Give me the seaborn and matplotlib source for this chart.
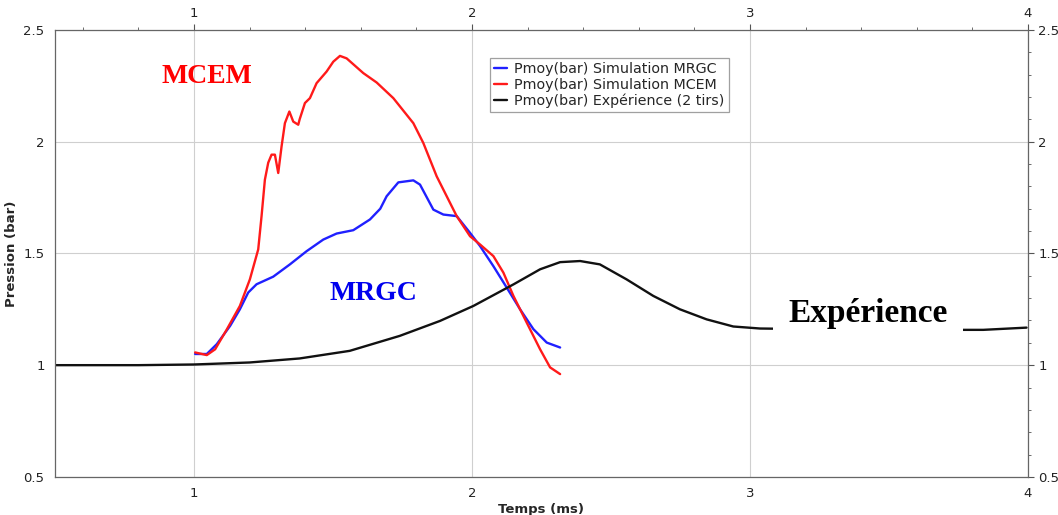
import numpy as np
import seaborn as sns
import matplotlib.pyplot as plt
from matplotlib.ticker import MultipleLocator, FuncFormatter

# Pmoy(bar) Simulation MRGC
t_mrgc = [1.004, 1.046, 1.082, 1.13, 1.165, 1.195, 1.225, 1.285, 1.345, 1.405, 1.465, 1.513,
          1.573, 1.633, 1.67, 1.693, 1.735, 1.789, 1.813, 1.861, 1.897, 1.945, 1.993, 2.029,
          2.077, 2.125, 2.173, 2.221, 2.269, 2.317]
p_mrgc = [1.05, 1.05, 1.094, 1.176, 1.25, 1.325, 1.362, 1.396, 1.451, 1.51, 1.562, 1.589,
          1.604, 1.652, 1.70, 1.756, 1.818, 1.827, 1.808, 1.696, 1.674, 1.667, 1.592, 1.533,
          1.443, 1.347, 1.25, 1.161, 1.101, 1.079]

# Pmoy(bar) Simulation MCEM
t_mcem = [1.004, 1.046, 1.076, 1.118, 1.165, 1.201, 1.231, 1.243, 1.255, 1.267, 1.279, 1.291,
          1.303, 1.315, 1.327, 1.343, 1.357, 1.375, 1.38, 1.399, 1.417, 1.441, 1.477, 1.501,
          1.525, 1.549, 1.609, 1.657, 1.717, 1.789, 1.825, 1.873, 1.909, 1.945, 1.993, 2.029,
          2.077, 2.113, 2.149, 2.197, 2.245, 2.281, 2.317]
p_mcem = [1.057, 1.045, 1.071, 1.16, 1.265, 1.384, 1.518, 1.667, 1.83, 1.906, 1.942, 1.942,
          1.86, 1.979, 2.083, 2.135, 2.09, 2.076, 2.10, 2.173, 2.195, 2.262, 2.314, 2.358,
          2.384, 2.373, 2.307, 2.265, 2.195, 2.083, 1.994, 1.845, 1.756, 1.667, 1.577, 1.54,
          1.488, 1.414, 1.31, 1.19, 1.071, 0.99, 0.96]

# Pmoy(bar) Experience (2 tirs)
t_exp = [0.5, 0.8, 1.0, 1.2, 1.38, 1.56, 1.74, 1.885, 2.005, 2.15, 2.245, 2.317, 2.389, 2.46,
         2.556, 2.652, 2.748, 2.844, 2.94, 3.036, 3.3, 3.6, 3.839, 3.995]
p_exp = [1.0, 1.0, 1.003, 1.012, 1.03, 1.064, 1.131, 1.198, 1.265, 1.362, 1.429, 1.461, 1.466,
         1.451, 1.384, 1.31, 1.25, 1.205, 1.173, 1.164, 1.16, 1.158, 1.158, 1.168]

sns.set_style("white")
plt.rcParams['font.family'] = ['DejaVu Sans']

fig = plt.figure(figsize=(10.58, 5.15), dpi=100)
ax = fig.add_axes([0.052, 0.074, 0.9196, 0.8678])

sns.lineplot(x=t_mrgc, y=p_mrgc, color="#2020ff", lw=1.7, sort=False, ax=ax,
             label="Pmoy(bar) Simulation MRGC")
sns.lineplot(x=t_mcem, y=p_mcem, color="#ff1a1a", lw=1.7, sort=False, ax=ax,
             label="Pmoy(bar) Simulation MCEM")
sns.lineplot(x=t_exp, y=p_exp, color="#111111", lw=1.7, sort=False, ax=ax,
             label="Pmoy(bar) Expérience (2 tirs)")

ax.set_xlim(0.5, 4)
ax.set_ylim(0.5, 2.5)
ax.xaxis.set_major_locator(MultipleLocator(1))
ax.xaxis.set_minor_locator(MultipleLocator(0.2))
ax.yaxis.set_major_locator(MultipleLocator(0.5))
ax.yaxis.set_minor_locator(MultipleLocator(0.1))
fmt = FuncFormatter(lambda v, pos: "%g" % v)
ax.xaxis.set_major_formatter(fmt)
ax.yaxis.set_major_formatter(fmt)

ax.tick_params(which="both", direction="out", top=True, right=True,
               labeltop=True, labelright=True, color="#555555", labelsize=9.5,
               labelcolor="#222222")
ax.tick_params(which="major", length=4, width=0.8)
ax.tick_params(which="minor", length=2.5, width=0.6)
ax.grid(True, which="major", color="#cfcfcf", lw=0.8)
for s in ax.spines.values():
    s.set_color("#666666")
    s.set_linewidth(0.9)

ax.set_xlabel("Temps (ms)", fontsize=9.5, fontweight="bold", labelpad=2)
ax.set_ylabel("Pression (bar)", fontsize=9.5, fontweight="bold", labelpad=4)

leg = ax.legend(loc="upper left", bbox_to_anchor=(0.447, 0.938), fontsize=10.3,
                frameon=True, fancybox=False, handlelength=0.9, handletextpad=0.5,
                borderpad=0.3, labelspacing=0.12, borderaxespad=0)
leg.get_frame().set_edgecolor("#888888")
leg.get_frame().set_linewidth(0.9)

ax.text(1.047, 2.29, "MCEM", color="#ff0000", fontsize=20, fontweight="bold",
        family="Liberation Serif", ha="center", va="center")
ax.text(1.646, 1.32, "MRGC", color="#0000ee", fontsize=20, fontweight="bold",
        family="Liberation Serif", ha="center", va="center")
ax.text(3.425, 1.232, "Expérience", color="#000000", fontsize=24, fontweight="bold",
        family="Liberation Serif", ha="center", va="center",
        bbox=dict(facecolor="white", edgecolor="none", pad=11))

fig.savefig("out.png", dpi=100)
